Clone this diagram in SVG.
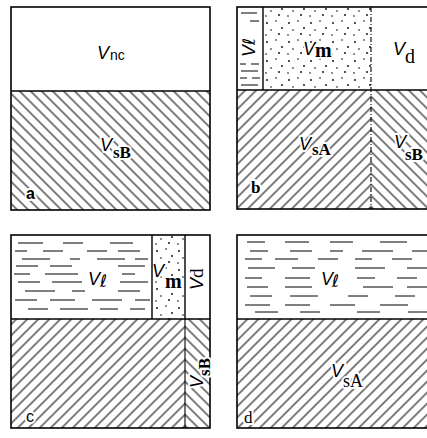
<svg xmlns="http://www.w3.org/2000/svg" width="427" height="438" viewBox="0 0 427 438">
<style>
.box{fill:none;stroke:#000;stroke-width:1.6}
.div{stroke:#000;stroke-width:1.4;fill:none}
.dash{stroke:#000;stroke-width:1.1;fill:none}
.liq{stroke:#000;stroke-width:1;fill:none}
.V{font-family:"Liberation Sans",Arial,sans-serif;font-style:italic;font-size:18px;fill:#000}
.sub{font-family:"Liberation Serif","Times New Roman",serif;font-weight:bold;font-style:normal;font-size:17px}
.subn{font-family:"Liberation Serif","Times New Roman",serif;font-weight:normal;font-style:normal;font-size:19px}
.subs{font-family:"Liberation Sans",Arial,sans-serif;font-style:normal;font-size:14px}
.ell{font-family:"DejaVu Sans",sans-serif;font-style:normal;font-size:17px}
.ko{stroke:#fff;stroke-width:4;stroke-linejoin:round;paint-order:stroke}
.lab{font-family:"Liberation Sans",Arial,sans-serif;font-size:16px;fill:#000}
.labs{font-family:"Liberation Serif","Times New Roman",serif;font-size:17px;fill:#000}
</style>
<defs>
<pattern id="hf" width="7.78" height="10" patternUnits="userSpaceOnUse" patternTransform="rotate(45)"><line x1="3.89" y1="-1" x2="3.89" y2="11" stroke="#000" stroke-width="1"/></pattern>
<pattern id="hb" width="7.78" height="10" patternUnits="userSpaceOnUse" patternTransform="rotate(-45)"><line x1="3.89" y1="-1" x2="3.89" y2="11" stroke="#000" stroke-width="1"/></pattern>
<pattern id="hb5" width="7.78" height="10" patternUnits="userSpaceOnUse" patternTransform="translate(5,0) rotate(-45)"><line x1="3.89" y1="-1" x2="3.89" y2="11" stroke="#000" stroke-width="1"/></pattern>
<pattern id="hb7" width="7.78" height="10" patternUnits="userSpaceOnUse" patternTransform="translate(7,0) rotate(-45)"><line x1="3.89" y1="-1" x2="3.89" y2="11" stroke="#000" stroke-width="1"/></pattern>
<pattern id="dots" width="22" height="19" patternUnits="userSpaceOnUse">
<circle cx="3" cy="4" r="0.9"/><circle cx="12" cy="2" r="0.8"/><circle cx="18" cy="9" r="0.9"/><circle cx="7" cy="11" r="0.8"/><circle cx="15" cy="15" r="0.9"/><circle cx="2" cy="16" r="0.8"/>
</pattern>
</defs>

<g id="panel-a">
<rect x="11" y="91" width="199" height="119" fill="url(#hb)"/>
<line class="div" x1="11" y1="91" x2="210" y2="91"/>
<rect class="box" x="11" y="7" width="199" height="203"/>
<text class="V" x="97" y="59">V<tspan class="subs" x="110" y="60">nc</tspan></text>
<text class="V ko" x="100" y="151">V<tspan class="sub" x="113" y="158">sB</tspan></text>
<text class="lab ko" x="26" y="199" style="font-weight:bold">a</text>
</g>

<g id="panel-b">
<rect x="263" y="7" width="108" height="83" fill="url(#dots)"/>
<path class="liq" d="M241 13H257M250 21H259M240 64H246M251 64H259M241 71H258M240 78H247M252 78H260M241 85H258"/>
<rect x="237" y="90" width="134" height="119" fill="url(#hf)"/>
<rect x="371" y="90" width="70" height="119" fill="url(#hb5)"/>
<line class="div" x1="237" y1="90" x2="440" y2="90"/>
<line class="div" x1="263" y1="7" x2="263" y2="90"/>
<line class="dash" x1="371" y1="7" x2="371" y2="209" stroke-dasharray="5 2 1 2"/>
<rect class="box" x="237" y="7" width="203" height="202"/>
<text class="V ko" transform="translate(255,57) rotate(-90)">V<tspan class="ell">ℓ</tspan></text>
<text class="V ko" x="303" y="55">V<tspan class="sub" x="315" y="57" style="font-size:20px">m</tspan></text>
<text class="V" x="393" y="55">V<tspan class="subn" x="405" y="63" style="font-size:20px">d</tspan></text>
<text class="V ko" x="299" y="150">V<tspan class="sub" x="312" y="155">sA</tspan></text>
<text class="V ko" x="394" y="148">V<tspan class="sub" x="405" y="160">sB</tspan></text>
<text class="labs ko" x="251" y="193" style="font-weight:bold">b</text>
</g>

<g id="panel-c">
<path class="liq" d="M18 243H43M63 243H83M110 243H133M15 251H27M43 251H63M87 251H107M118 251H140M22 259H50M70 259H80M97 259H125M135 259H148M16 266H38M50 266H72M118 266H145M14 274H30M45 274H78M122 274H135M18 282H40M52 282H82M120 282H148M25 291H55M72 291H85M118 291H140M15 300H37M50 300H75M92 300H122M135 300H150M28 309H48M60 309H88M100 309H118M130 309H145"/>
<rect x="152" y="235" width="33" height="84" fill="url(#dots)"/>
<rect x="11" y="319" width="174" height="109" fill="url(#hf)"/>
<rect x="185" y="319" width="25" height="109" fill="url(#hb7)"/>
<line class="div" x1="11" y1="319" x2="210" y2="319"/>
<line class="div" x1="185" y1="235" x2="185" y2="319"/>
<line class="dash" x1="185" y1="319" x2="185" y2="428"/>
<rect class="box" x="11" y="235" width="199" height="193"/>
<text class="V ko" x="88" y="285">V<tspan class="ell" x="100" y="287">ℓ</tspan></text>
<text class="V ko" x="152" y="277">V</text>
<text class="V ko" x="165" y="288"><tspan class="sub" style="font-size:20px">m</tspan></text>
<line class="div" x1="152" y1="235" x2="152" y2="319"/>
<text class="V" transform="translate(203,290) rotate(-90)">V<tspan class="subn">d</tspan></text>
<text class="V ko" transform="translate(203,388) rotate(-90)">V<tspan class="sub" dy="7">sB</tspan></text>
<text class="lab ko" x="26" y="422">c</text>
</g>

<g id="panel-d">
<path class="liq" d="M247 242H265M285 242H309M330 242H353M380 242H407M250 251H268M290 251H312M330 251H343M362 251H393M412 251H427M245 259H262M275 259H298M318 259H338M355 259H372M392 259H412M248 268H275M292 268H315M355 268H385M407 268H427M245 278H262M285 278H310M357 278H375M397 278H417M247 287H268M285 287H312M363 287H393M407 287H427M250 296H272M290 296H318M348 296H368M395 296H415M245 305H270M285 305H310M330 305H355M380 305H408M255 312H278M300 312H320M357 312H380M408 312H427"/>
<rect x="237" y="319" width="203" height="109" fill="url(#hf)"/>
<line class="div" x1="237" y1="319" x2="440" y2="319"/>
<rect class="box" x="237" y="235" width="203" height="193"/>
<text class="V ko" x="321" y="285">V<tspan class="ell" x="332" y="287">ℓ</tspan></text>
<text class="V ko" x="331" y="377">V<tspan class="subn" x="343" y="387" style="font-size:18px">sA</tspan></text>
<text class="labs ko" x="244" y="423">d</text>
</g>
</svg>
